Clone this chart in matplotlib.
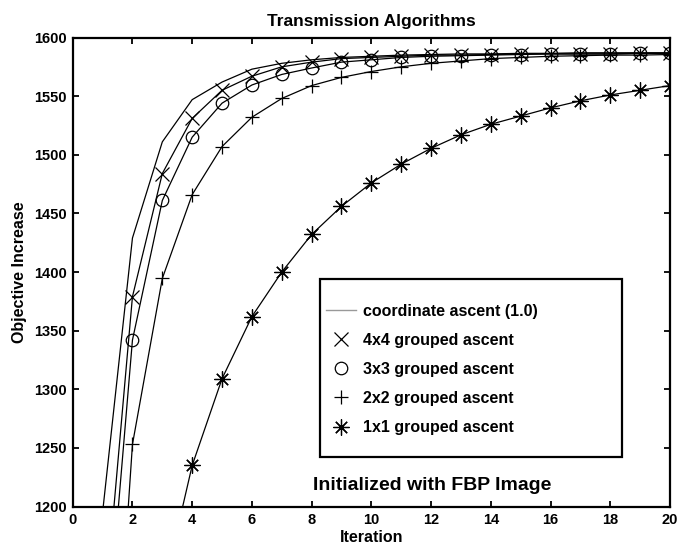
import numpy as np
import matplotlib
matplotlib.use('Agg')
import matplotlib.pyplot as plt
from matplotlib.lines import Line2D
from matplotlib.patches import Rectangle

plt.rcParams['font.family'] = ['Liberation Sans', 'DejaVu Sans']
plt.rcParams['font.weight'] = 'bold'

# Datos (iteraciones 1..20)
iteracion = np.arange(1, 21)
coordinada = [1195, 1429, 1511, 1547, 1562, 1573, 1578, 1581, 1583, 1584,
              1585, 1585.5, 1586, 1586, 1586.5, 1586.5, 1587, 1587, 1587, 1587]
grupo_4x4 = [1090, 1379, 1484, 1531, 1555, 1567, 1575, 1579, 1582, 1583,
             1584, 1585, 1585, 1585.5, 1586, 1586, 1586, 1586, 1586.5, 1586.5]
grupo_3x3 = [1040, 1342, 1461, 1515, 1544, 1559.5, 1568.5, 1574, 1579, 1581,
             1583, 1584, 1584.5, 1585, 1585.5, 1586, 1586, 1586, 1586.5, 1586.5]
grupo_2x2 = [873, 1253, 1394.5, 1466, 1507, 1532, 1548, 1559, 1566, 1571,
             1575, 1578, 1580, 1582, 1583, 1584, 1584.5, 1585, 1585, 1585.5]
grupo_1x1 = [880, 1010, 1125, 1235, 1309, 1362, 1400, 1432, 1456, 1476,
             1492, 1505.5, 1517, 1526, 1533, 1540, 1546, 1551, 1555, 1559]

etiquetas = ['coordinate ascent (1.0)', '4x4 grouped ascent', '3x3 grouped ascent',
             '2x2 grouped ascent', '1x1 grouped ascent']

fig = plt.figure(figsize=(6.81, 5.46), dpi=100)
ax = fig.add_axes([0.1068, 0.0723, 0.8770, 0.8590])

lw = 0.9
ast = (8, 2, 0)
ax.plot(iteracion, coordinada, color='k', lw=lw)
ax.plot(iteracion, grupo_4x4, color='k', lw=lw, marker='x', ms=10, mew=0.9)
ax.plot(iteracion, grupo_3x3, color='k', lw=lw, marker='o', ms=9, mew=0.9, mfc='none')
ax.plot(iteracion, grupo_2x2, color='k', lw=lw, marker='+', ms=10.5, mew=0.9)
ax.plot(iteracion, grupo_1x1, color='k', lw=lw, marker=ast, ms=11.5, mew=0.9)

ax.set_xlim(0, 20)
ax.set_ylim(1200, 1600)
ax.set_xticks(np.arange(0, 21, 2))
ax.set_yticks(np.arange(1200, 1601, 50))
ax.tick_params(direction='in', top=True, right=True, length=4, width=1.3,
               labelsize=10.5, pad=4.5)
for s in ax.spines.values():
    s.set_linewidth(1.6)

ax.set_title('Transmission Algorithms', fontsize=12.5, fontweight='bold', pad=8)
ax.set_xlabel('Iteration', fontsize=11.5, fontweight='bold', labelpad=2.5)
ax.set_ylabel('Objective Increase', fontsize=11.5, fontweight='bold', labelpad=5)

# Caja de leyenda dibujada a mano (estilo MATLAB)
ax.add_patch(Rectangle((0.414, 0.1055), 0.506, 0.3795, transform=ax.transAxes,
                       fill=False, lw=1.6, ec='k', zorder=5))
manejadores = [
    Line2D([], [], color='0.6', lw=1.0),
    Line2D([], [], color='k', ls='none', marker='x', ms=10, mew=0.9),
    Line2D([], [], color='k', ls='none', marker='o', ms=9, mew=0.9, mfc='none'),
    Line2D([], [], color='k', ls='none', marker='+', ms=10.5, mew=0.9),
    Line2D([], [], color='k', ls='none', marker=ast, ms=11.5, mew=0.9),
]
ax.legend(manejadores, etiquetas, loc='upper left', bbox_to_anchor=(0.424, 0.432),
          frameon=False, borderpad=0, borderaxespad=0, fontsize=11.5,
          handlelength=1.9, handletextpad=0.4, labelspacing=0.88, numpoints=1)

ax.text(0.402, 0.044, 'Initialized with FBP Image', transform=ax.transAxes,
        ha='left', va='center', fontsize=14, fontweight='bold')

plt.savefig('out.png', dpi=100)
